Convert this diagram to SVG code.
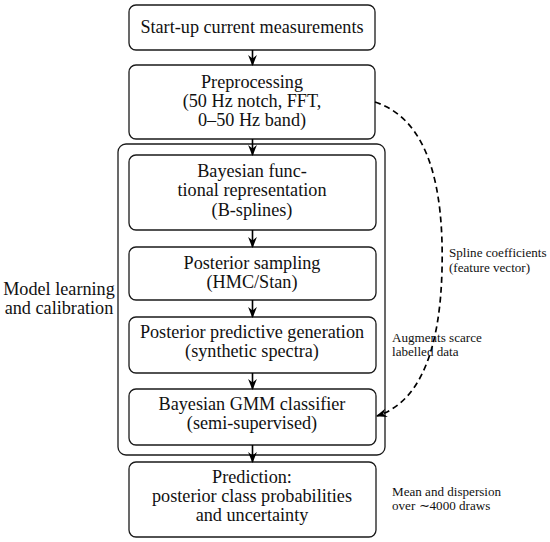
<svg xmlns="http://www.w3.org/2000/svg" width="550" height="542" viewBox="0 0 550 542">
<style>
.box{fill:#fff;stroke:#1a1a1a;stroke-width:1.3}
.t{font-family:"Liberation Serif","Times New Roman",serif;font-size:18.2px;fill:#111;text-anchor:middle}
.s{font-family:"Liberation Serif","Times New Roman",serif;font-size:13.1px;fill:#111}
.ar{stroke:#000;stroke-width:1.6;fill:none;marker-end:url(#ah)}
.da{stroke:#000;stroke-width:1.7;fill:none;stroke-dasharray:6 4;marker-end:url(#ah)}
</style>
<defs>
<marker id="ah" markerWidth="11" markerHeight="11" viewBox="0 0 10 10" refX="9" refY="5" orient="auto" markerUnits="userSpaceOnUse">
<path d="M0,1 L10,5 L0,9 L3,5 Z" fill="#000"/>
</marker>
</defs>
<g id="outer">
<rect class="box" x="118" y="144" width="267" height="311" rx="8"/>
<text class="t" x="59" y="295">Model learning</text>
<text class="t" x="59" y="314">and calibration</text>
</g>
<g id="n1">
<rect class="box" x="129" y="5" width="246" height="45" rx="7"/>
<text class="t" x="252" y="33">Start-up current measurements</text>
</g>
<g id="n2">
<rect class="box" x="129" y="65" width="246" height="74" rx="7"/>
<text class="t" x="252" y="88">Preprocessing</text>
<text class="t" x="252" y="107">(50 Hz notch, FFT,</text>
<text class="t" x="252" y="126">0–50 Hz band)</text>
</g>
<g id="n3">
<rect class="box" x="129" y="155" width="247" height="75" rx="7"/>
<text class="t" x="252" y="177">Bayesian func-</text>
<text class="t" x="252" y="196">tional representation</text>
<text class="t" x="252" y="216">(B-splines)</text>
</g>
<g id="n4">
<rect class="box" x="129" y="247" width="247" height="53" rx="7"/>
<text class="t" x="252" y="269">Posterior sampling</text>
<text class="t" x="252" y="288">(HMC/Stan)</text>
</g>
<g id="n5">
<rect class="box" x="129" y="317" width="247" height="56" rx="7"/>
<text class="t" x="252" y="338">Posterior predictive generation</text>
<text class="t" x="252" y="357">(synthetic spectra)</text>
</g>
<g id="n6">
<rect class="box" x="129" y="389" width="247" height="56" rx="7"/>
<text class="t" x="252" y="410">Bayesian GMM classifier</text>
<text class="t" x="252" y="429">(semi-supervised)</text>
</g>
<g id="n7">
<rect class="box" x="129" y="462" width="247" height="75" rx="7"/>
<text class="t" x="252" y="483">Prediction:</text>
<text class="t" x="252" y="502">posterior class probabilities</text>
<text class="t" x="252" y="521">and uncertainty</text>
</g>
<g id="connectors">
<line class="ar" x1="252.5" y1="50" x2="252.5" y2="65"/>
<line class="ar" x1="252.5" y1="139" x2="252.5" y2="155"/>
<line class="ar" x1="252.5" y1="230" x2="252.5" y2="247"/>
<line class="ar" x1="252.5" y1="300" x2="252.5" y2="317"/>
<line class="ar" x1="252.5" y1="373" x2="252.5" y2="389"/>
<line class="ar" x1="252.5" y1="445" x2="252.5" y2="462"/>
<path class="da" d="M375,102 C430,120 444,190 442,270 C440,350 420,402 377,416"/>
</g>
<g id="labels">
<text class="s" x="449" y="257">Spline coefficients</text>
<text class="s" x="449" y="272">(feature vector)</text>
<text class="s" x="392" y="342">Augments scarce</text>
<text class="s" x="392" y="356">labelled data</text>
<text class="s" x="392" y="496">Mean and dispersion</text>
<text class="s" x="392" y="510">over ∼4000 draws</text>
</g>
</svg>
